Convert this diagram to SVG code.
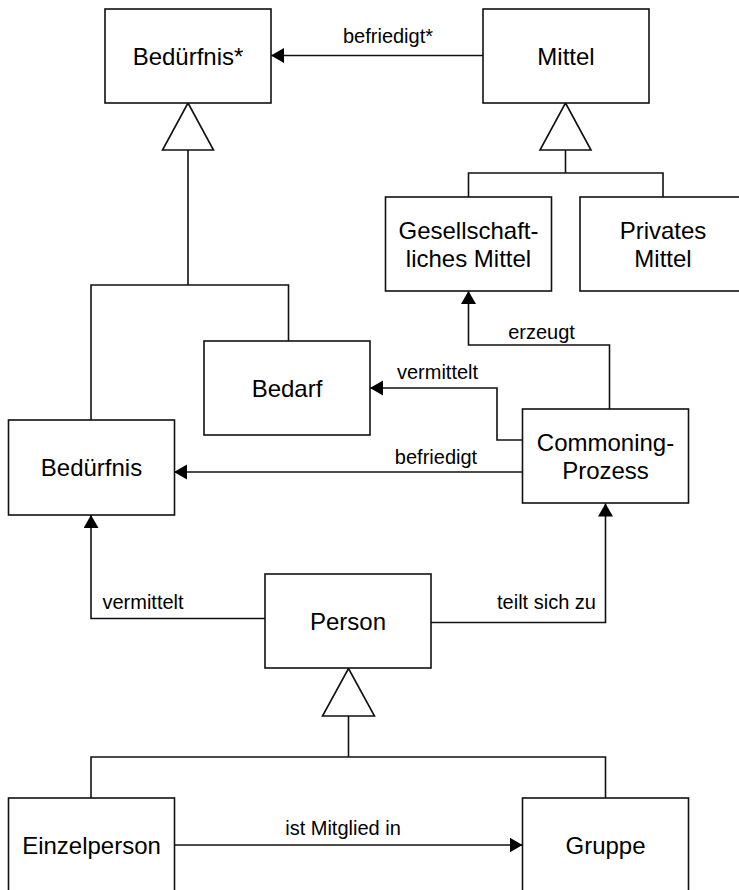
<svg xmlns="http://www.w3.org/2000/svg" width="739" height="890" viewBox="0 0 739 890">
<style>
.box{fill:#fff;stroke:#111;stroke-width:1.6}
.t{font-family:"Liberation Sans",Arial,sans-serif;font-size:24px;fill:#000;text-anchor:middle}
.el{font-family:"Liberation Sans",Arial,sans-serif;font-size:20px;fill:#000;text-anchor:middle}
.ln{fill:none;stroke:#111;stroke-width:1.6}
.gen{fill:#fff;stroke:#111;stroke-width:1.6}
</style>
<defs>
<marker id="arr" markerUnits="userSpaceOnUse" markerWidth="14" markerHeight="16" refX="13" refY="7.5" orient="auto">
<path d="M0,0 L13,7.5 L0,15 z" fill="#000"/>
</marker>
</defs>
<rect width="739" height="890" fill="#fff"/>
<g id="connectors">
<!-- befriedigt* -->
<path class="ln" d="M483,55.5 H271" marker-end="url(#arr)"/>
<text class="el" x="388" y="43">befriedigt*</text>
<!-- generalization Bedürfnis* -->
<path class="ln" d="M188,150 V285 M91,420 V285 H288.5 V341"/>
<polygon class="gen" points="188,103 213.5,150 162.5,150"/>
<!-- generalization Mittel -->
<path class="ln" d="M565.5,150 V173 M468.5,197 V173 H663 V197"/>
<polygon class="gen" points="565.5,103 591,150 540,150"/>
<!-- erzeugt -->
<path class="ln" d="M609.5,409 V345 H468.5 V291" marker-end="url(#arr)"/>
<text class="el" x="541.5" y="339">erzeugt</text>
<!-- vermittelt Bedarf -->
<path class="ln" d="M522.5,440 H497 V388 H370" marker-end="url(#arr)"/>
<text class="el" x="437.5" y="379">vermittelt</text>
<!-- befriedigt -->
<path class="ln" d="M522.5,472 H174" marker-end="url(#arr)"/>
<text class="el" x="436" y="464">befriedigt</text>
<!-- Person vermittelt -->
<path class="ln" d="M265,618.5 H91 V515" marker-end="url(#arr)"/>
<text class="el" x="143" y="609">vermittelt</text>
<!-- teilt sich zu -->
<path class="ln" d="M431,622.5 H605.5 V503.5" marker-end="url(#arr)"/>
<text class="el" x="546.5" y="609">teilt sich zu</text>
<!-- generalization Person -->
<path class="ln" d="M348.5,716 V757 M91,798 V757 H605.5 V798"/>
<polygon class="gen" points="348.5,668.5 374.5,716 322.5,716"/>
<!-- ist Mitglied in -->
<path class="ln" d="M174,845 H522.5" marker-end="url(#arr)"/>
<text class="el" x="343" y="835">ist Mitglied in</text>
</g>
<g id="n_beduerfnis_star"><rect class="box" x="105" y="9" width="166" height="94"/><text class="t" x="188" y="64.5">Bedürfnis*</text></g>
<g id="n_mittel"><rect class="box" x="483" y="9" width="166" height="94"/><text class="t" x="566" y="64.5">Mittel</text></g>
<g id="n_gesellschaftlich"><rect class="box" x="385.5" y="197" width="166" height="94"/><text class="t" x="468.5" y="238.8">Gesellschaft-</text><text class="t" x="468.5" y="266.8">liches Mittel</text></g>
<g id="n_privat"><rect class="box" x="580" y="197" width="166" height="94"/><text class="t" x="663" y="238.8">Privates</text><text class="t" x="663" y="266.8">Mittel</text></g>
<g id="n_bedarf"><rect class="box" x="204" y="341" width="166" height="94"/><text class="t" x="287" y="396.8">Bedarf</text></g>
<g id="n_beduerfnis"><rect class="box" x="8.5" y="420" width="166" height="95"/><text class="t" x="91.5" y="476">Bedürfnis</text></g>
<g id="n_commoning"><rect class="box" x="522.5" y="409" width="166" height="94"/><text class="t" x="605.5" y="450.6">Commoning-</text><text class="t" x="605.5" y="478.6">Prozess</text></g>
<g id="n_person"><rect class="box" x="265" y="574" width="166" height="94"/><text class="t" x="348" y="629.5">Person</text></g>
<g id="n_einzelperson"><rect class="box" x="8.5" y="798" width="166" height="94"/><text class="t" x="91.5" y="853.5">Einzelperson</text></g>
<g id="n_gruppe"><rect class="box" x="522.5" y="798" width="166" height="94"/><text class="t" x="605.5" y="853.5">Gruppe</text></g>
</svg>
